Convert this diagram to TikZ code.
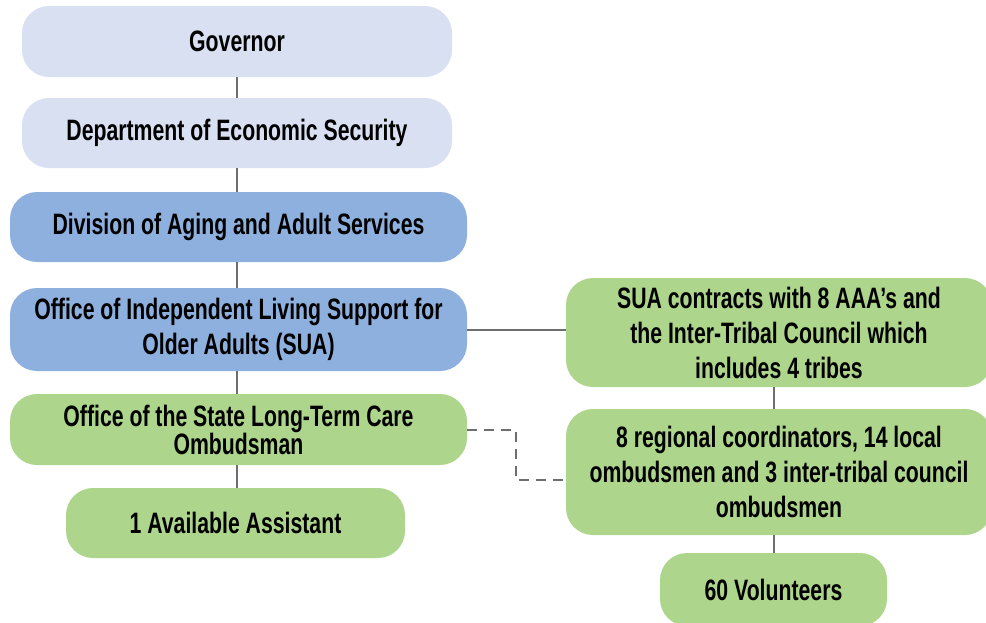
\documentclass[tikz,border=0pt]{standalone}
\usepackage{fontspec}
\setmainfont{Liberation Sans}[FakeStretch=0.72]
\definecolor{lav}{RGB}{217,224,242}
\definecolor{mblue}{RGB}{142,176,222}
\definecolor{lgreen}{RGB}{174,213,140}
\definecolor{conn}{RGB}{110,110,110}
\tikzset{
  orgbox/.style={draw=none, rounded corners=27pt, align=center, inner sep=0pt,
    font=\bfseries\fontsize{29.5}{35}\selectfont},
  link/.style={draw=conn, line width=2pt},
  dlink/.style={draw=conn, line width=2pt, dash pattern=on 10pt off 7pt}
}
\begin{document}
\begin{tikzpicture}[x=1pt,y=-1pt]
\useasboundingbox (0,0) rectangle (986,622);
\begin{scope}
\clip (0,0) rectangle (986,622);
\node[orgbox, fill=lav, minimum width=430, minimum height=71] (gov) at (237,41.5) {Governor};
\node[orgbox, fill=lav, minimum width=430, minimum height=70] (dept) at (237,133) {Department of Economic Security};
\node[orgbox, fill=mblue, minimum width=457, minimum height=70] (div) at (238.5,227) {Division of Aging and Adult Services};
\node[orgbox, fill=mblue, minimum width=457, minimum height=83] (sua) at (238.5,329.5) {Office of Independent Living Support for\\Older Adults (SUA)};
\node[orgbox, fill=lgreen, minimum width=457, minimum height=71, font=\bfseries\fontsize{29.5}{28}\selectfont] (ltc) at (238.5,429.5) {Office of the State Long-Term Care\\Ombudsman};
\node[orgbox, fill=lgreen, minimum width=339, minimum height=70] (asst) at (235.5,523) {1 Available Assistant};
\node[orgbox, fill=lgreen, minimum width=426, minimum height=109] (contr) at (779,332.5) {SUA contracts with 8 AAA’s and\\the Inter-Tribal Council which\\includes 4 tribes};
\node[orgbox, fill=lgreen, minimum width=426, minimum height=126] (reg) at (779,472) {8 regional coordinators, 14 local\\ombudsmen and 3 inter-tribal council\\ombudsmen};
\node[orgbox, fill=lgreen, minimum width=227, minimum height=73] (vol) at (773.5,589.5) {60 Volunteers};
\end{scope}
\draw[link] (gov.south) -- (dept.north);
\draw[link] (dept.south) -- (dept.south |- div.north);
\draw[link] (dept.south |- div.south) -- (dept.south |- sua.north);
\draw[link] (dept.south |- sua.south) -- (dept.south |- ltc.north);
\draw[link] (dept.south |- ltc.south) -- (dept.south |- asst.north);
\draw[link] (sua.east) -- (sua.east -| contr.west);
\draw[link] (vol.north |- contr.south) -- (vol.north |- reg.north);
\draw[link] (vol.north |- reg.south) -- (vol.north);
\coordinate (dj) at (516,480);
\draw[dlink] (ltc.east) -| (dj) -- (dj -| reg.west);
\end{tikzpicture}
\end{document}
